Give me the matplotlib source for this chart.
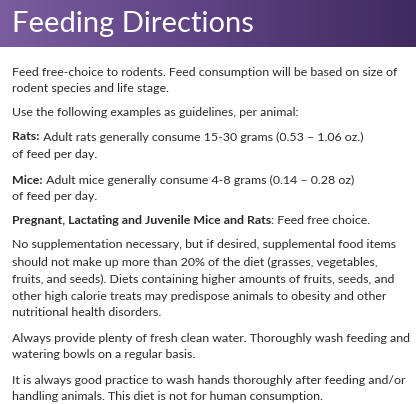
import matplotlib
matplotlib.use("Agg")
import matplotlib.pyplot as plt
import numpy as np
from matplotlib.colors import LinearSegmentedColormap

W, H = 416, 404
title = "Feeding Directions"
# (y_center_px, bold_prefix, rest)
lines = [
    (73, "", "Feed free-choice to rodents. Feed consumption will be based on size of"),
    (89, "", "rodent species and life stage."),
    (113, "", "Use the following examples as guidelines, per animal:"),
    (137, "Rats:", " Adult rats generally consume 15-30 grams (0.53 \u2013 1.06 oz.)"),
    (155, "", "of feed per day."),
    (180, "Mice:", " Adult mice generally consume 4-8 grams (0.14 \u2013 0.28 oz)"),
    (197, "", "of feed per day."),
    (220, "Pregnant, Lactating and Juvenile Mice and Rats", ": Feed free choice."),
    (245, "", "No supplementation necessary, but if desired, supplemental food items"),
    (262, "", "should not make up more than 20% of the diet (grasses, vegetables,"),
    (279, "", "fruits, and seeds). Diets containing higher amounts of fruits, seeds, and"),
    (296, "", "other high calorie treats may predispose animals to obesity and other"),
    (313, "", "nutritional health disorders."),
    (338, "", "Always provide plenty of fresh clean water. Thoroughly wash feeding and"),
    (355, "", "watering bowls on a regular basis."),
    (380, "", "It is always good practice to wash hands thoroughly after feeding and/or"),
    (397, "", "handling animals. This diet is not for human consumption."),
]

fig = plt.figure(figsize=(W / 100, H / 100), dpi=100)
ax = fig.add_axes([0, 0, 1, 1])

cmap = LinearSegmentedColormap.from_list("hdr", ["#7b5c9e", "#5e4283", "#3f2b60"])
grad = np.linspace(0, 1, 256).reshape(1, -1)
ax.imshow(grad, cmap=cmap, extent=[0, W, 47, 0], aspect="auto")
ax.set_xlim(0, W)
ax.set_ylim(H, 0)
ax.axis("off")
ax.text(12, 24, title, color="white", fontsize=21, family="Lato",
        va="center", ha="left")

fig.canvas.draw()
r = fig.canvas.get_renderer()
fs = 8.9
col = "#2a2a2a"
inv = ax.transData.inverted()
for y, b, rest in lines:
    x = 12
    if b:
        t = ax.text(x, y, b, fontsize=fs, family="Lato", weight="bold",
                    color=col, va="center", ha="left")
        bb = t.get_window_extent(renderer=r)
        x = inv.transform((bb.x1, bb.y0))[0]
    ax.text(x, y, rest, fontsize=fs, family="Lato", color=col,
            va="center", ha="left")

fig.savefig("out.png", dpi=100)
